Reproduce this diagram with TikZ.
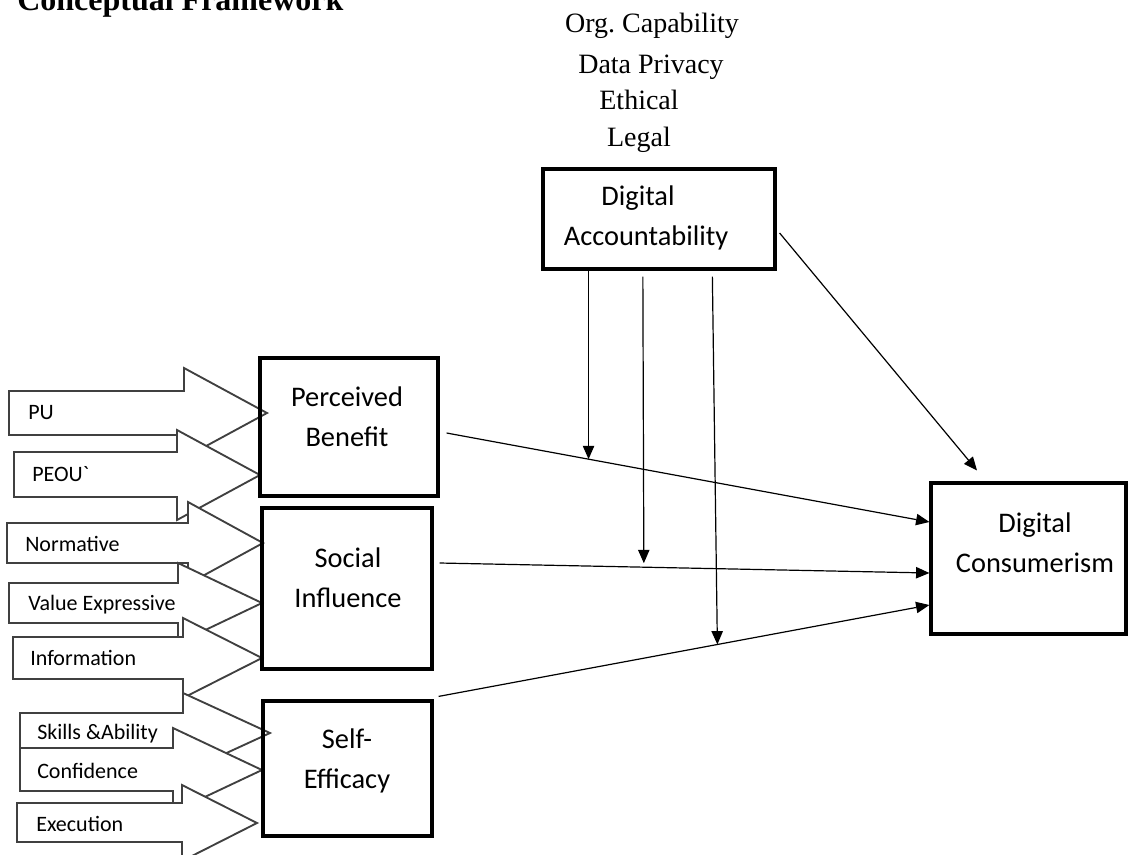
\documentclass[tikz,border=0pt]{standalone}
\usepackage{fontspec}
\setmainfont{Carlito}
\newfontfamily\calib{Carlito}
\newfontfamily\tnr{Liberation Serif}
\usetikzlibrary{arrows.meta,calc}

\begin{document}
\begin{tikzpicture}[x=0.75pt,y=-0.75pt,
  box/.style={draw,line width=2.4pt,inner sep=0pt},
  lbl/.style={font=\calib\fontsize{21.3}{30}\selectfont,align=center,inner sep=0pt},
  fac/.style={font=\tnr\fontsize{21}{25}\selectfont,inner sep=0pt,anchor=base},
  blk/.style={draw=black!75,fill=white,line width=1.4pt},
  sub/.style={font=\calib\fontsize{16.5}{18}\selectfont,anchor=west,inner sep=0pt},
  ar/.style={-{Triangle[length=10pt,width=8.5pt]},line width=0.9pt}]
 \useasboundingbox (0,0) rectangle (1128,854);
 \node[font=\tnr\bfseries\fontsize{24}{28}\selectfont,anchor=base west,inner sep=0pt] (ttl) at (17,10) {Conceptual Framework};

 % dimensions of accountability
 \node[fac] (cap) at (652,32) {Org.\ Capability};
 \node[fac] (priv) at (651,73) {Data Privacy};
 \node[fac] (eth) at (639,109) {Ethical};
 \node[fac] (leg) at (639,146) {Legal};

 % input block arrows
 \filldraw[blk] (9,391) -- (184,391) -- (184,368) -- (267,413) -- (184,458) -- (184,435) -- (9,435) -- cycle;
 \node[sub] (pu) at (28,413) {PU};
 \filldraw[blk] (14,452) -- (177,452) -- (177,430) -- (260,475) -- (177,520) -- (177,497) -- (14,497) -- cycle;
 \node[sub] (peou) at (32,474) {PEOU`};
 \filldraw[blk] (7,523) -- (188,523) -- (188,502) -- (263,543) -- (188,584) -- (188,563) -- (7,563) -- cycle;
 \node[sub] (norm) at (25,544) {Normative};
 \filldraw[blk] (9,583) -- (178,583) -- (178,563) -- (262,603) -- (178,643) -- (178,623) -- (9,623) -- cycle;
 \node[sub] (valx) at (28,605) {Value Expressive};
 \filldraw[blk] (13,637) -- (183,637) -- (183,618) -- (262,658) -- (183,698) -- (183,679) -- (13,679) -- cycle;
 \node[sub] (info) at (30,658) {Information};
 \filldraw[blk] (20,713) -- (183,713) -- (183,693) -- (270,733) -- (183,773) -- (183,753) -- (20,753) -- cycle;
 \node[sub] (skill) at (37,734) {Skills \&Ability};
 \filldraw[blk] (20,748) -- (173,748) -- (173,728) -- (262,770) -- (173,812) -- (173,791) -- (20,791) -- cycle;
 \node[sub] (conf) at (37,771) {Confidence};
 \filldraw[blk] (17,803) -- (182,803) -- (182,785) -- (257,823) -- (182,861) -- (182,842) -- (17,842) -- cycle;
 \node[sub] (exec) at (36,824) {Execution};

 % construct boxes
 \node[box,minimum width=174pt,minimum height=75pt] (da) at (659,219) {};
 \node[lbl] (dat) at (646,218) {\hspace*{-12pt}Digital\\Accountability};
 \node[box,minimum width=133.5pt,minimum height=103.5pt] (pb) at (349,427) {};
 \node[lbl] (pbt) at (347,417) {Perceived\\Benefit};
 \node[box,minimum width=127.5pt,minimum height=120.75pt] (si) at (347,588.5) {};
 \node[lbl] (sit) at (348,578) {Social\\Influence};
 \node[box,minimum width=126.75pt,minimum height=101.25pt] (se) at (347.5,768.5) {};
 \node[lbl] (set) at (347,761) {Self-\\Efficacy};
 \node[box,minimum width=146.25pt,minimum height=113.25pt] (dc) at (1028.5,558.5) {};
 \node[lbl] (dct) at (1035,543) {Digital\\Consumerism};

 % paths
 \draw[ar] ($(pb.east)+(7,6)$) -- ($(dc.west)+(0,-36.5)$) coordinate[pos=0.294] (m1);
 \draw[ar] ($(si.east)+(6,-25.5)$) -- ($(dc.west)+(0,14.5)$) coordinate[pos=0.417] (m2);
 \draw[ar] ($(se.north east)+(5,-3)$) -- ($(dc.west)+(0,46.5)$) coordinate[pos=0.568] (m3);
 \draw[ar] ($(da.east)+(3,14)$) -- ($(dc.north)+(-51.5,-11)$);
 \draw[ar] (da.south -| m1) -- (m1);
 \draw[ar,shorten >=3pt] ($(da.south -| m2)+(-1,6)$) -- (m2);
 \draw[ar] ($(da.south -| m3)+(-5,6)$) -- (m3);
\end{tikzpicture}
\end{document}
